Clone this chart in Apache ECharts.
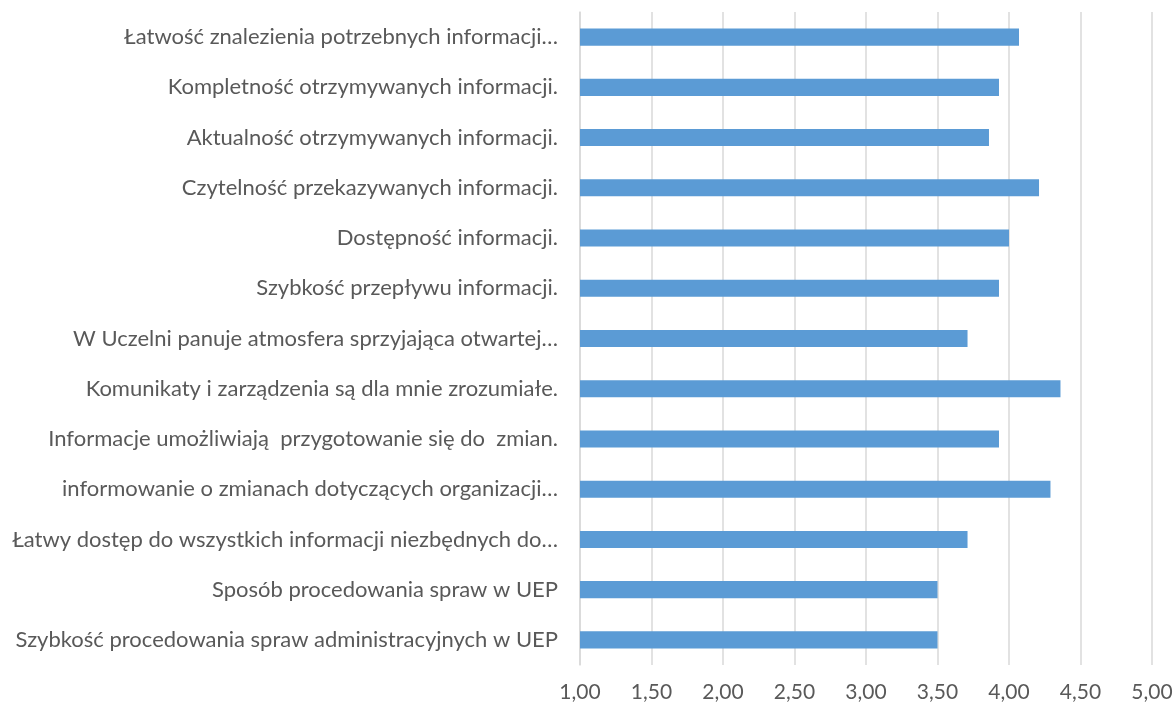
<!DOCTYPE html>
<html><head><meta charset="utf-8">
<script src="https://cdn.jsdelivr.net/npm/echarts@6/dist/echarts.min.js"></script>
<style>html,body{margin:0;padding:0;background:#fff}#c{width:1176px;height:706px}</style>
</head><body><div id="c"></div>
<script>
const categories = [
  "Łatwość znalezienia potrzebnych informacji…",
  "Kompletność otrzymywanych informacji.",
  "Aktualność otrzymywanych informacji.",
  "Czytelność przekazywanych informacji.",
  "Dostępność informacji.",
  "Szybkość przepływu informacji.",
  "W Uczelni panuje atmosfera sprzyjająca otwartej…",
  "Komunikaty i zarządzenia są dla mnie zrozumiałe.",
  "Informacje umożliwiają  przygotowanie się do  zmian.",
  "informowanie o zmianach dotyczących organizacji…",
  "Łatwy dostęp do wszystkich informacji niezbędnych do…",
  "Sposób procedowania spraw w UEP",
  "Szybkość procedowania spraw administracyjnych w UEP"
];
const values = [4.07, 3.93, 3.86, 4.21, 4.00, 3.93, 3.71, 4.36, 3.93, 4.29, 3.71, 3.50, 3.50];
const axisMin = 1.0, axisMax = 5.0, axisStep = 0.5;

const chart = echarts.init(document.getElementById('c'), null, {renderer: 'canvas'});
chart.setOption({
  animation: false,
  backgroundColor: '#ffffff',
  grid: {left: 580, right: 24, top: 12, bottom: 41, containLabel: false},
  xAxis: {
    type: 'value', min: axisMin, max: axisMax, interval: axisStep,
    axisLine: {show: false}, axisTick: {show: false},
    splitLine: {show: true, lineStyle: {color: '#d9d9d9', width: 1.5}},
    axisLabel: {
      color: '#595959', fontFamily: 'Lato', fontSize: 21, margin: 17,
      formatter: v => v.toFixed(2).replace('.', ',')
    }
  },
  yAxis: {
    type: 'category', inverse: true, data: categories,
    axisLine: {show: true, lineStyle: {color: '#d9d9d9', width: 1.5}},
    axisTick: {show: false},
    axisLabel: {color: '#595959', fontFamily: 'Lato', fontSize: 22, margin: 22}
  },
  series: [{
    type: 'bar', data: values, barCategoryGap: '66%',
    itemStyle: {color: '#5b9bd5'}
  }]
});
</script></body></html>
